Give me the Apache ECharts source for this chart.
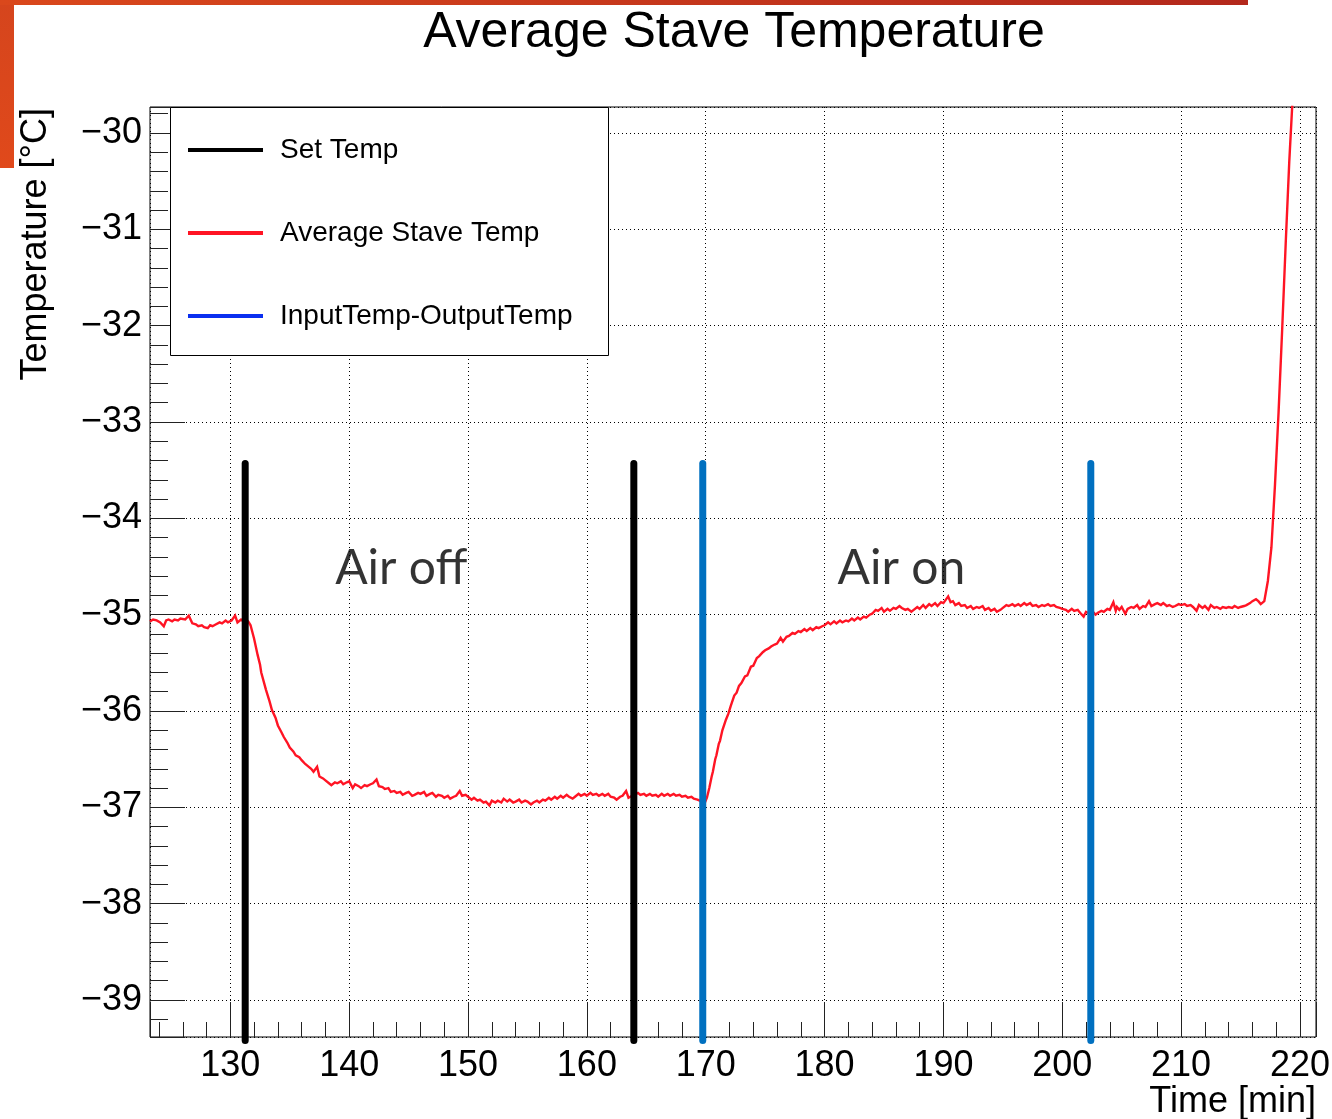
<!DOCTYPE html>
<html style="height: 100%">
<head>
    <meta charset="utf-8">
    <title>Average Stave Temperature</title>
    <script src="https://cdn.jsdelivr.net/npm/echarts@6/dist/echarts.min.js"></script>
    <style>
        html, body { margin: 0; padding: 0; background: #fff; }
        #container { width: 1332px; height: 1119px; }
    </style>
</head>
<body>
<div id="container"></div>
<script>
    // average stave temperature [min, degC], split by phase
    var beforeAirOff = [
        [123.24,-35.07],[123.5,-35.05],[123.8,-35.06],[124.1,-35.08],[124.4,-35.12],[124.6,-35.06],
        [124.8,-35.05],[125.1,-35.07],[125.3,-35.05],[125.6,-35.06],[125.8,-35.04],[126.2,-35.05],
        [126.5,-35.01],[126.8,-35.09],[127.1,-35.10],[127.3,-35.12],[127.6,-35.11],[127.8,-35.13],
        [128.1,-35.14],[128.3,-35.11],[128.5,-35.12],[128.8,-35.10],[129.1,-35.08],[129.3,-35.09],
        [129.6,-35.06],[129.8,-35.08],[130.1,-35.06],[130.4,-35.01],[130.6,-35.08],[130.9,-35.05],
        [131.1,-35.07],[131.3,-35.05]
    ];
    var airOffCooling = [
        [131.5,-35.07],[131.7,-35.11],[132.0,-35.25],[132.3,-35.42],[132.5,-35.52],[132.6,-35.60],
        [133.0,-35.78],[133.3,-35.90],[133.5,-35.99],[133.8,-36.07],[134.0,-36.15],[134.3,-36.22],
        [134.5,-36.27],[134.8,-36.33],[135.0,-36.38],[135.3,-36.42],[135.5,-36.46],[135.8,-36.48],
        [136.0,-36.51],[136.3,-36.55],[136.5,-36.57],[136.8,-36.60],[137.0,-36.63],[137.3,-36.58],
        [137.5,-36.68],[137.8,-36.70],[138.0,-36.72],[138.3,-36.75],[138.5,-36.77],[138.8,-36.74],
        [139.0,-36.75],[139.3,-36.73],[139.5,-36.76],[139.8,-36.74],[140.0,-36.73],[140.3,-36.80],
        [140.5,-36.76],[140.8,-36.78],[141.0,-36.80],[141.3,-36.77],[141.5,-36.78],[141.8,-36.76],
        [142.0,-36.75],[142.3,-36.71],[142.5,-36.78],[142.8,-36.79],[143.0,-36.81],[143.3,-36.80],
        [143.5,-36.84],[143.8,-36.83],[144.0,-36.85]
    ];
    var airOffPlateau = [
        [144.3,-36.84],[144.5,-36.87],[144.8,-36.85],[145.0,-36.84],[145.3,-36.88],[145.5,-36.87],
        [145.8,-36.85],[146.0,-36.86],[146.3,-36.84],[146.5,-36.88],[146.8,-36.86],[147.0,-36.85],
        [147.3,-36.89],[147.5,-36.87],[147.8,-36.88],[148.0,-36.90],[148.3,-36.88],[148.5,-36.91],
        [148.8,-36.89],[149.0,-36.88],[149.3,-36.83],[149.5,-36.88],[149.8,-36.87],[150.0,-36.89],
        [150.3,-36.92],[150.5,-36.90],[150.8,-36.93],[151.0,-36.92],[151.3,-36.95],[151.5,-36.94],
        [151.8,-36.98],[152.0,-36.93],[152.3,-36.95],[152.5,-36.93],[152.8,-36.95],[153.0,-36.91],
        [153.3,-36.94],[153.5,-36.92],[153.8,-36.95],[154.0,-36.94],[154.3,-36.92],[154.5,-36.95],
        [154.8,-36.93],[155.0,-36.94],[155.3,-36.97],[155.5,-36.95],[155.8,-36.93],[156.0,-36.95],
        [156.3,-36.92],[156.5,-36.93],[156.8,-36.90],[157.0,-36.92],[157.3,-36.89],[157.5,-36.91],
        [157.8,-36.88],[158.0,-36.90],[158.3,-36.87],[158.5,-36.89],[158.8,-36.91],[159.0,-36.89],
        [159.3,-36.86],[159.5,-36.88],[159.8,-36.86],[160.0,-36.88],[160.3,-36.85],[160.5,-36.87],
        [160.8,-36.86],[161.0,-36.88],[161.3,-36.86],[161.5,-36.88],[161.8,-36.86],[162.0,-36.89],
        [162.3,-36.90],[162.5,-36.92],[162.8,-36.89],[163.0,-36.88],[163.3,-36.83],[163.5,-36.90],
        [163.8,-36.88],[164.0,-36.87],[164.3,-36.85],[164.5,-36.87],[164.8,-36.86],[165.0,-36.88],
        [165.3,-36.86],[165.5,-36.88],[165.8,-36.87],[166.0,-36.89],[166.3,-36.86],[166.5,-36.88],
        [166.8,-36.86],[167.0,-36.88],[167.3,-36.86],[167.5,-36.88],[167.8,-36.87],[168.0,-36.89],
        [168.3,-36.88],[168.5,-36.90],[168.8,-36.89],[169.0,-36.91],[169.3,-36.92],[169.5,-36.93],
        [169.9,-36.96]
    ];
    var airOnWarming = [
        [170.1,-36.90],[170.3,-36.80],[170.5,-36.68],[170.6,-36.63],[170.8,-36.50],[170.9,-36.46],
        [171.1,-36.34],[171.2,-36.31],[171.4,-36.20],[171.5,-36.18],[171.7,-36.09],[171.9,-36.03],
        [172.1,-35.95],[172.2,-35.93],[172.4,-35.84],[172.6,-35.81],[172.8,-35.74],[173.0,-35.71],
        [173.3,-35.64],[173.5,-35.63],[173.8,-35.54],[174.0,-35.53],[174.3,-35.45],[174.5,-35.43],
        [174.8,-35.39],[175.0,-35.37],[175.3,-35.35],[175.5,-35.33],[175.8,-35.31],[176.0,-35.30],
        [176.3,-35.24],[176.5,-35.28],[176.8,-35.23],[177.0,-35.22],[177.3,-35.19],[177.5,-35.20],
        [177.8,-35.17],[178.0,-35.18],[178.3,-35.15],[178.5,-35.17],[178.8,-35.14],[179.0,-35.16],
        [179.3,-35.13],[179.5,-35.14],[179.8,-35.12],[180.0,-35.11],[180.3,-35.08],[180.5,-35.10],
        [180.8,-35.07],[181.0,-35.09],[181.3,-35.06],[181.5,-35.08],[181.8,-35.06],[182.0,-35.07],
        [182.3,-35.04],[182.5,-35.06],[182.8,-35.03],[183.0,-35.05],[183.3,-35.02],[183.5,-35.03],
        [183.8,-35.00],[184.0,-34.99],[184.3,-34.95],[184.5,-34.96],[184.8,-34.93],[185.0,-34.97],
        [185.3,-34.94],[185.5,-34.96],[185.8,-34.93],[186.0,-34.94],[186.3,-34.91],[186.5,-34.93],
        [186.8,-34.95],[187.0,-34.94],[187.3,-34.97],[187.5,-34.95],[187.8,-34.92],[188.0,-34.94],
        [188.3,-34.90],[188.5,-34.93],[188.8,-34.89],[189.0,-34.91],[189.3,-34.88],[189.5,-34.91],
        [189.8,-34.87],[190.0,-34.88],[190.4,-34.81],[190.6,-34.87],[190.8,-34.86]
    ];
    var airOnPlateau = [
        [191.0,-34.90],[191.3,-34.88],[191.5,-34.91],[191.8,-34.90],[192.0,-34.93],[192.3,-34.91],
        [192.5,-34.94],[192.8,-34.92],[193.0,-34.93],[193.3,-34.91],[193.5,-34.95],[193.8,-34.93],
        [194.0,-34.96],[194.3,-34.94],[194.5,-34.97],[194.8,-34.95],[195.0,-34.93],[195.3,-34.90],
        [195.5,-34.91],[195.8,-34.89],[196.0,-34.91],[196.3,-34.89],[196.5,-34.91],[196.8,-34.88],
        [197.0,-34.90],[197.3,-34.88],[197.5,-34.91],[197.8,-34.90],[198.0,-34.92],[198.3,-34.90],
        [198.5,-34.91],[198.8,-34.89],[199.0,-34.91],[199.3,-34.90],[199.5,-34.92],[199.8,-34.93],
        [200.0,-34.94],[200.3,-34.95],[200.5,-34.97],[200.8,-34.94],[201.0,-34.96],[201.3,-34.95],
        [201.5,-34.98],[201.8,-35.02],[202.0,-34.97],[202.3,-34.99],[202.5,-34.96],[202.8,-35.00],
        [203.0,-34.98],[203.3,-34.96],[203.5,-34.97],[203.8,-34.94],[204.0,-34.95],[204.3,-34.87],
        [204.5,-34.96],[204.6,-34.92],[204.8,-34.95],[205.0,-34.92],[205.3,-34.99],[205.5,-34.94],
        [205.8,-34.92],[206.0,-34.93],[206.3,-34.90],[206.5,-34.94],[206.8,-34.91],[207.0,-34.92],
        [207.3,-34.86],[207.5,-34.91],[207.8,-34.89],[208.0,-34.88],[208.3,-34.90],[208.5,-34.88],
        [208.8,-34.91],[209.0,-34.90],[209.3,-34.92],[209.5,-34.91],[209.8,-34.89],[210.0,-34.90],
        [210.3,-34.89],[210.5,-34.91],[210.8,-34.90],[211.0,-34.92],[211.3,-34.96],[211.5,-34.90],
        [211.8,-34.93],[212.0,-34.91],[212.3,-34.95],[212.5,-34.90],[212.8,-34.93],[213.0,-34.92],
        [213.3,-34.94],[213.5,-34.92],[213.8,-34.93],[214.0,-34.92],[214.3,-34.93],[214.5,-34.91],
        [214.8,-34.93],[215.0,-34.92],[215.3,-34.91],[215.5,-34.90],[215.8,-34.88],[216.0,-34.86],
        [216.3,-34.84],[216.5,-34.86],[216.7,-34.89],[217.0,-34.86]
    ];
    var finalRise = [
        [217.3,-34.65],[217.6,-34.30],[217.9,-33.65],[218.2,-32.90],[218.5,-32.05],[218.8,-31.15],
        [219.1,-30.30],[219.4,-29.60]
    ];

    // vertical marker lines
    var setTempTimes = [131.25, 163.95];
    var inOutTimes = [169.75, 202.4];
    var markerTop = -33.43;
    var markerBottom = -39.42;

    // text annotations
    var noteText = ['Air off', 'Air on'];
    var noteTime = [138.82, 181.09];
    var noteTemp = [-34.52, -34.52];

    var legendNames = ['Set Temp', 'Average Stave Temp', 'InputTemp-OutputTemp'];

    var staveData = [].concat(beforeAirOff, airOffCooling, airOffPlateau, airOnWarming, airOnPlateau, finalRise);

    var FONT = '"Liberation Sans", Arial, Helvetica, sans-serif';

    function markerSeries(t, color) {
        return {
            type: 'line',
            name: 'marker',
            data: [[t, markerTop], [t, markerBottom]],
            showSymbol: false,
            clip: false,
            silent: true,
            z: 4,
            lineStyle: { color: color, width: 7, cap: 'round' }
        };
    }

    var series = [
        { type: 'line', name: 'Set Temp', data: [], itemStyle: { color: '#000' }, lineStyle: { color: '#000' } },
        {
            type: 'line',
            name: 'Average Stave Temp',
            data: staveData,
            showSymbol: false,
            clip: true,
            z: 3,
            itemStyle: { color: '#ff1424' },
            lineStyle: { color: '#ff1424', width: 2.4, join: 'miter' }
        },
        { type: 'line', name: 'InputTemp-OutputTemp', data: [], itemStyle: { color: '#0a2ff0' }, lineStyle: { color: '#0a2ff0' } }
    ];
    setTempTimes.forEach(function (t) { series.push(markerSeries(t, '#000')); });
    inOutTimes.forEach(function (t) { series.push(markerSeries(t, '#0070c0')); });
    series.push({
        type: 'scatter',
        name: 'notes',
        symbolSize: 0,
        silent: true,
        z: 5,
        data: noteText.map(function (s, i) { return [noteTime[i], noteTemp[i], s]; }),
        label: {
            show: true,
            position: 'right',
            distance: 0,
            formatter: function (p) { return p.value[2]; },
            fontFamily: 'Lato, "Open Sans", sans-serif',
            fontWeight: 'normal',
            fontSize: 48,
            color: '#000'
        }
    });

    var myChart = echarts.init(document.getElementById('container'), null, { renderer: 'canvas' });
    var option = {
        animation: false,
        backgroundColor: '#fff',
        title: {
            text: 'Average Stave Temperature',
            left: 734,
            textAlign: 'center',
            top: 8,
            padding: 0,
            textStyle: { fontFamily: FONT, fontSize: 50, fontWeight: 'normal', color: '#000' }
        },
        legend: {
            orient: 'vertical',
            left: 188,
            top: 136,
            padding: 0,
            itemWidth: 75,
            itemHeight: 4,
            itemGap: 55,
            icon: 'rect',
            z: 6,
            textStyle: { fontFamily: FONT, fontSize: 28, color: '#000', padding: [0, 0, 0, 12] },
            data: [
                { name: legendNames[0] },
                { name: legendNames[1] },
                { name: legendNames[2], itemStyle: { color: '#0a2ff0' } }
            ]
        },
        grid: {
            left: 150,
            top: 107,
            width: 1166,
            height: 930,
            show: true,
            borderColor: '#000',
            borderWidth: 1,
            backgroundColor: 'transparent',
            outerBoundsMode: 'none'
        },
        xAxis: {
            type: 'value',
            min: 123.24,
            max: 221.35,
            splitNumber: 10,
            axisLine: { show: false },
            axisTick: { show: true, inside: true, length: 35, lineStyle: { color: '#222', width: 1 } },
            minorTick: { show: true, splitNumber: 5, length: 15, lineStyle: { color: '#222', width: 1 } },
            axisLabel: {
                showMinLabel: false,
                showMaxLabel: false,
                margin: 11,
                fontFamily: FONT,
                fontSize: 36,
                color: '#000'
            },
            splitLine: { show: true, lineStyle: { color: '#000', width: 1, type: [1, 3] } }
        },
        yAxis: {
            type: 'value',
            min: -39.384,
            max: -29.73,
            splitNumber: 10,
            axisLine: { show: false },
            axisTick: { show: true, inside: true, length: 35, lineStyle: { color: '#222', width: 1 } },
            minorTick: { show: true, splitNumber: 5, length: 18, lineStyle: { color: '#222', width: 1 } },
            axisLabel: {
                showMinLabel: false,
                showMaxLabel: false,
                margin: 8,
                fontFamily: FONT,
                fontSize: 36,
                color: '#000',
                formatter: function (v) { return (v < 0 ? '\u2212' : '') + Math.abs(Math.round(v)); }
            },
            splitLine: { show: true, lineStyle: { color: '#000', width: 1, type: [1, 3] } }
        },
        graphic: [
            // slide decoration
            { type: 'rect', z: 0, shape: { x: 0, y: 0, width: 14, height: 168 },
              style: { fill: { type: 'linear', x: 0, y: 0, x2: 0, y2: 1,
                  colorStops: [{ offset: 0, color: '#d5451d' }, { offset: 1, color: '#e0491b' }] } } },
            { type: 'rect', z: 0, shape: { x: 0, y: 0, width: 1248, height: 5 },
              style: { fill: { type: 'linear', x: 0, y: 0, x2: 1, y2: 0,
                  colorStops: [{ offset: 0, color: '#da481c' }, { offset: 1, color: '#b3281c' }] } } },
            // legend box
            { type: 'rect', z: 3, shape: { x: 170.5, y: 107.5, width: 438, height: 248 },
              style: { fill: '#fff', stroke: '#000', lineWidth: 1 } },
            // axis titles
            { type: 'text', z: 5, x: 36, y: 108, rotation: Math.PI / 2,
              style: { text: 'Temperature [\u00B0C]', align: 'right', verticalAlign: 'middle',
                  font: '36px ' + FONT, fill: '#000' } },
            { type: 'text', z: 5, x: 1316, y: 1102,
              style: { text: 'Time [min]', align: 'right', verticalAlign: 'middle',
                  font: '36px ' + FONT, fill: '#000' } }
        ],
        series: series
    };
    myChart.setOption(option);
</script>
</body>
</html>
